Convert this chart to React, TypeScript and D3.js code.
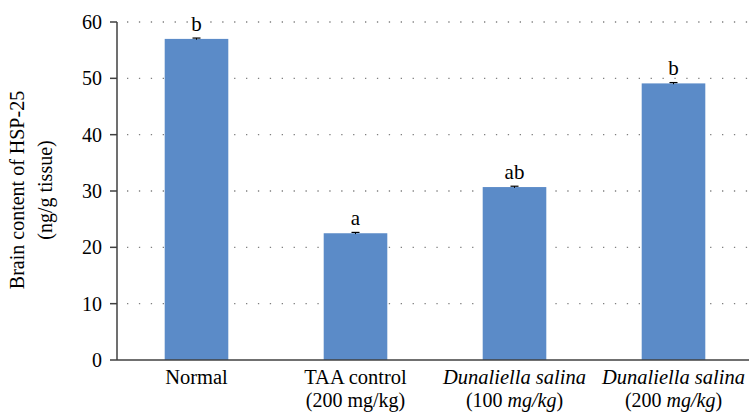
import React from "react";
import * as d3 from "d3";

const categories = ["Normal", "TAA control", "Dunaliella salina", "Dunaliella salina"];
const subLabels = [
  [{ t: "", i: false }],
  [{ t: "(200 mg/kg)", i: false }],
  [{ t: "(100 ", i: false }, { t: "mg/kg", i: true }, { t: ")", i: false }],
  [{ t: "(200 ", i: false }, { t: "mg/kg", i: true }, { t: ")", i: false }],
];
const italicCat = [false, false, true, true];
const values = [57.0, 22.5, 30.7, 49.1];
const errors = [0.15, 0.15, 0.15, 0.15];
const sigLetters = ["b", "a", "ab", "b"];
const yTicks = [0, 10, 20, 30, 40, 50, 60];

const W = 749;
const H = 413;
const FONT = "'Liberation Serif', 'Times New Roman', serif";

export default function App() {
  const x = d3.scaleBand<number>().domain(d3.range(categories.length)).range([117, 753]).paddingInner(0.6).paddingOuter(0.3);
  const y = d3.scaleLinear().domain([0, 60]).range([360, 22]);
  const bw = x.bandwidth();
  return (
    <svg width={W} height={H} style={{ position: "absolute", left: 0, top: 0 }} fontFamily={FONT}>
      {yTicks.filter((t) => t > 0).map((t) => (
        <line key={"g" + t} x1={127} x2={749} y1={y(t)} y2={y(t)} stroke="#7f7f7f" strokeWidth={1.3} strokeDasharray="1.3 10.6" />
      ))}
      {values.map((v, i) => (
        <g key={"b" + i}>
          <rect x={x(i)!} y={y(v)} width={bw} height={y(0) - y(v)} fill="#5b8bc8" />
          <line x1={x(i)! + bw / 2} x2={x(i)! + bw / 2} y1={y(v + errors[i])} y2={y(v - errors[i])} stroke="#000" strokeWidth={1} />
          <line x1={x(i)! + bw / 2 - 4} x2={x(i)! + bw / 2 + 4} y1={y(v + errors[i])} y2={y(v + errors[i])} stroke="#000" strokeWidth={1.2} />
          <text x={x(i)! + bw / 2} y={y(v) - 8} textAnchor="middle" fontSize={21} fill="#000">{sigLetters[i]}</text>
        </g>
      ))}
      <line x1={117} x2={117} y1={y(60)} y2={y(0)} stroke="#404040" strokeWidth={1.5} />
      <line x1={117} x2={749} y1={y(0)} y2={y(0)} stroke="#404040" strokeWidth={1.5} />
      {yTicks.map((t) => (
        <g key={"t" + t}>
          <line x1={110} x2={117} y1={y(t)} y2={y(t)} stroke="#404040" strokeWidth={1.5} />
          <text x={102} y={y(t)} dy="0.35em" textAnchor="end" fontSize={20} fill="#000">{t}</text>
        </g>
      ))}
      {categories.map((c, i) => {
        const cx = x(i)! + bw / 2;
        return (
          <g key={"c" + i}>
            <text x={cx} y={384} textAnchor="middle" fontSize={20.5} fontStyle={italicCat[i] ? "italic" : "normal"} fill="#000">{c}</text>
            <text x={cx} y={407} textAnchor="middle" fontSize={20} fill="#000">
              {subLabels[i].map((s, k) => (
                <tspan key={k} fontStyle={s.i ? "italic" : "normal"}>{s.t}</tspan>
              ))}
            </text>
          </g>
        );
      })}
      <g transform="translate(24,190) rotate(-90)">
        <text x={0} y={0} textAnchor="middle" fontSize={20} fill="#000">Brain content of HSP-25</text>
        <text x={0} y={28} textAnchor="middle" fontSize={20} fill="#000">(ng/g tissue)</text>
      </g>
    </svg>
  );
}
